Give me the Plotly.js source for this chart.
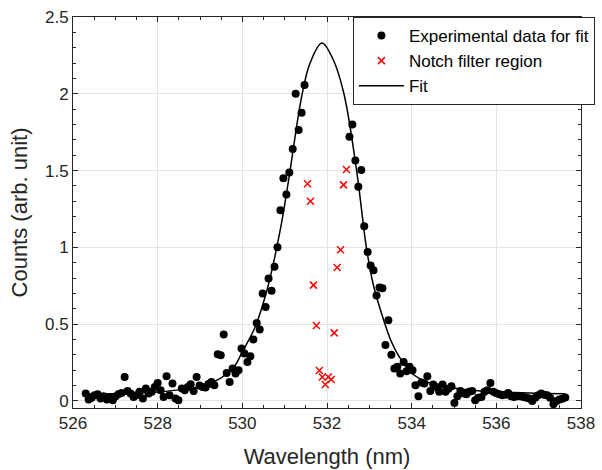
<!DOCTYPE html>
<html><head><meta charset="utf-8">
<script src="https://cdn.plot.ly/plotly-3.0.1.min.js"></script>
<style>html,body{margin:0;padding:0;background:#fff}#chart{width:602px;height:470px}</style>
</head><body><div id="chart"></div>
<script>
// Experimental data for fit (black dots)
const expX = [526.30,526.37,526.44,526.51,526.58,526.65,526.72,526.80,526.87,526.94,
527.01,527.08,527.15,527.22,527.29,527.36,527.43,527.50,527.57,527.65,
527.72,527.79,527.86,527.93,528.00,528.07,528.14,528.21,528.28,528.35,
528.42,528.49,528.57,528.64,528.71,528.78,528.85,528.92,528.99,529.06,
529.13,529.20,529.27,529.34,529.42,529.49,529.56,529.63,529.70,529.77,
529.84,529.91,529.98,530.05,530.12,530.19,530.26,530.34,530.41,530.48,
530.55,530.62,530.69,530.76,530.83,530.90,530.97,531.04,531.11,531.19,
531.26,531.33,531.40,531.47,
532.53,532.60,532.67,532.74,532.81,532.88,532.96,533.03,533.10,533.17,
533.24,533.31,533.38,533.45,533.52,533.59,533.66,533.73,533.81,533.88,
533.95,534.02,534.09,534.16,534.23,534.30,534.37,534.44,534.51,534.58,
534.65,534.73,534.80,534.87,534.94,535.01,535.08,535.15,535.22,535.29,
535.36,535.43,535.50,535.57,535.65,535.72,535.79,535.86,535.93,536.00,
536.07,536.14,536.21,536.28,536.35,536.42,536.50,536.57,536.64,536.71,
536.78,536.85,536.92,536.99,537.06,537.13,537.20,537.27,537.35,537.42,
537.49,537.56,537.63];
const expY = [0.048,0.009,0.020,0.037,0.044,0.016,0.030,0.009,0.022,0.005,
0.030,0.045,0.052,0.156,0.065,0.048,0.026,0.037,0.059,0.016,
0.081,0.048,0.060,0.090,0.117,0.070,0.026,0.161,0.037,0.113,
0.016,0.005,0.081,0.070,0.090,0.109,0.065,0.156,0.100,0.091,
0.087,0.110,0.124,0.102,0.304,0.298,0.432,0.182,0.124,0.211,
0.178,0.200,0.341,0.309,0.254,0.291,0.400,0.508,0.465,0.700,
0.612,0.797,0.717,0.873,1.000,1.242,1.450,1.345,1.488,1.640,
2.000,1.764,1.876,2.057,
1.720,1.800,1.566,1.394,1.503,1.138,0.969,0.882,0.851,0.687,
0.739,0.734,0.365,0.526,0.300,0.211,0.222,0.178,0.254,0.193,
0.222,0.200,0.102,0.031,0.120,0.113,0.161,0.065,0.107,0.090,
0.059,0.107,0.059,0.080,0.096,-0.013,0.030,0.065,0.050,0.044,
0.060,0.065,0.005,0.020,0.026,0.059,0.070,0.117,0.059,0.050,
0.044,0.037,0.040,0.052,0.030,0.026,0.031,0.030,0.026,0.020,
0.016,0.000,0.020,0.037,0.048,0.040,0.037,0.020,-0.021,0.000,
0.009,0.015,0.022];

// Notch filter region (red x)
const notchX = [531.54,531.61,531.68,531.75,531.82,531.89,531.96,532.03,532.10,532.17,532.24,532.32,532.39,532.46];
const notchY = [1.414,1.300,0.754,0.491,0.198,0.156,0.107,0.156,0.139,0.443,0.869,0.984,1.407,1.507];

// Fit curve
const fitX = [526.30,527.00,527.50,528.00,528.50,529.00,529.50,529.80,530.00,530.30,530.60,530.90,531.10,531.40,531.60,531.88,532.15,532.40,532.70,532.93,533.10,533.37,533.50,533.70,534.00,534.40,535.10,536.00,537.00,537.63];
const fitY = [0.045,0.047,0.050,0.058,0.072,0.095,0.150,0.220,0.320,0.480,0.740,1.120,1.450,1.980,2.200,2.330,2.220,2.000,1.500,1.000,0.750,0.500,0.400,0.290,0.180,0.120,0.080,0.060,0.050,0.047];

const xTickVals = [526,528,530,532,534,536,538];
const yTickVals = [0,0.5,1,1.5,2,2.5];
const yTickText = ['0','0.5','1','1.5','2','2.5'];

const FONT = 'Liberation Sans, Arial, Helvetica, sans-serif';
const AX = '#262626';

const traces = [
  {x: expX, y: expY, mode: 'markers', type: 'scatter', name: 'Experimental data for fit',
   marker: {symbol: 'circle', size: 8, color: '#000'}},
  {x: notchX, y: notchY, mode: 'markers', type: 'scatter', name: 'Notch filter region',
   marker: {symbol: 'x-thin', size: 7, color: '#ff0000', line: {color: '#ff0000', width: 1.5}}},
  {x: fitX, y: fitY, mode: 'lines', type: 'scatter', name: 'Fit',
   line: {color: '#000', width: 1.5, shape: 'spline', smoothing: 1}}
];

const axisCommon = {
  showline: true, linecolor: AX, linewidth: 1, mirror: 'allticks',
  ticks: 'inside', ticklen: 5, tickcolor: AX, tickwidth: 1,
  showgrid: true, gridcolor: '#e3e3e3', gridwidth: 1, zeroline: false,
  tickfont: {family: FONT, size: 17, color: AX},
};

const layout = {
  width: 602, height: 470,
  margin: {l: 73.3, r: 21.3, t: 16.7, b: 62.3, autoexpand: false},
  paper_bgcolor: '#fff', plot_bgcolor: '#fff',
  font: {family: FONT, color: AX},
  showlegend: true,
  legend: {x: 0.551, xanchor: 'left', y: 1.0, yanchor: 'top',
    bgcolor: '#fff', bordercolor: AX, borderwidth: 1, itemwidth: 45,
    font: {family: FONT, size: 17, color: '#000'}, tracegroupgap: 0},
  xaxis: Object.assign({}, axisCommon, {
    range: [526, 538], tickvals: xTickVals, ticktext: xTickVals.map(String),
    minor: {dtick: 0.5, ticks: 'inside', ticklen: 3, tickcolor: AX, showgrid: false},
    title: {text: 'Wavelength (nm)', font: {family: FONT, size: 22, color: AX}, standoff: 16}
  }),
  yaxis: Object.assign({}, axisCommon, {
    range: [-0.046, 2.5], tickvals: yTickVals, ticktext: yTickText,
    minor: {dtick: 0.1, ticks: 'inside', ticklen: 3, tickcolor: AX, showgrid: false},
    title: {text: 'Counts (arb. unit)', font: {family: FONT, size: 22, color: AX}, standoff: 11}
  })
};

Plotly.newPlot('chart', traces, layout, {displayModeBar: false, staticPlot: true});
</script></body></html>
